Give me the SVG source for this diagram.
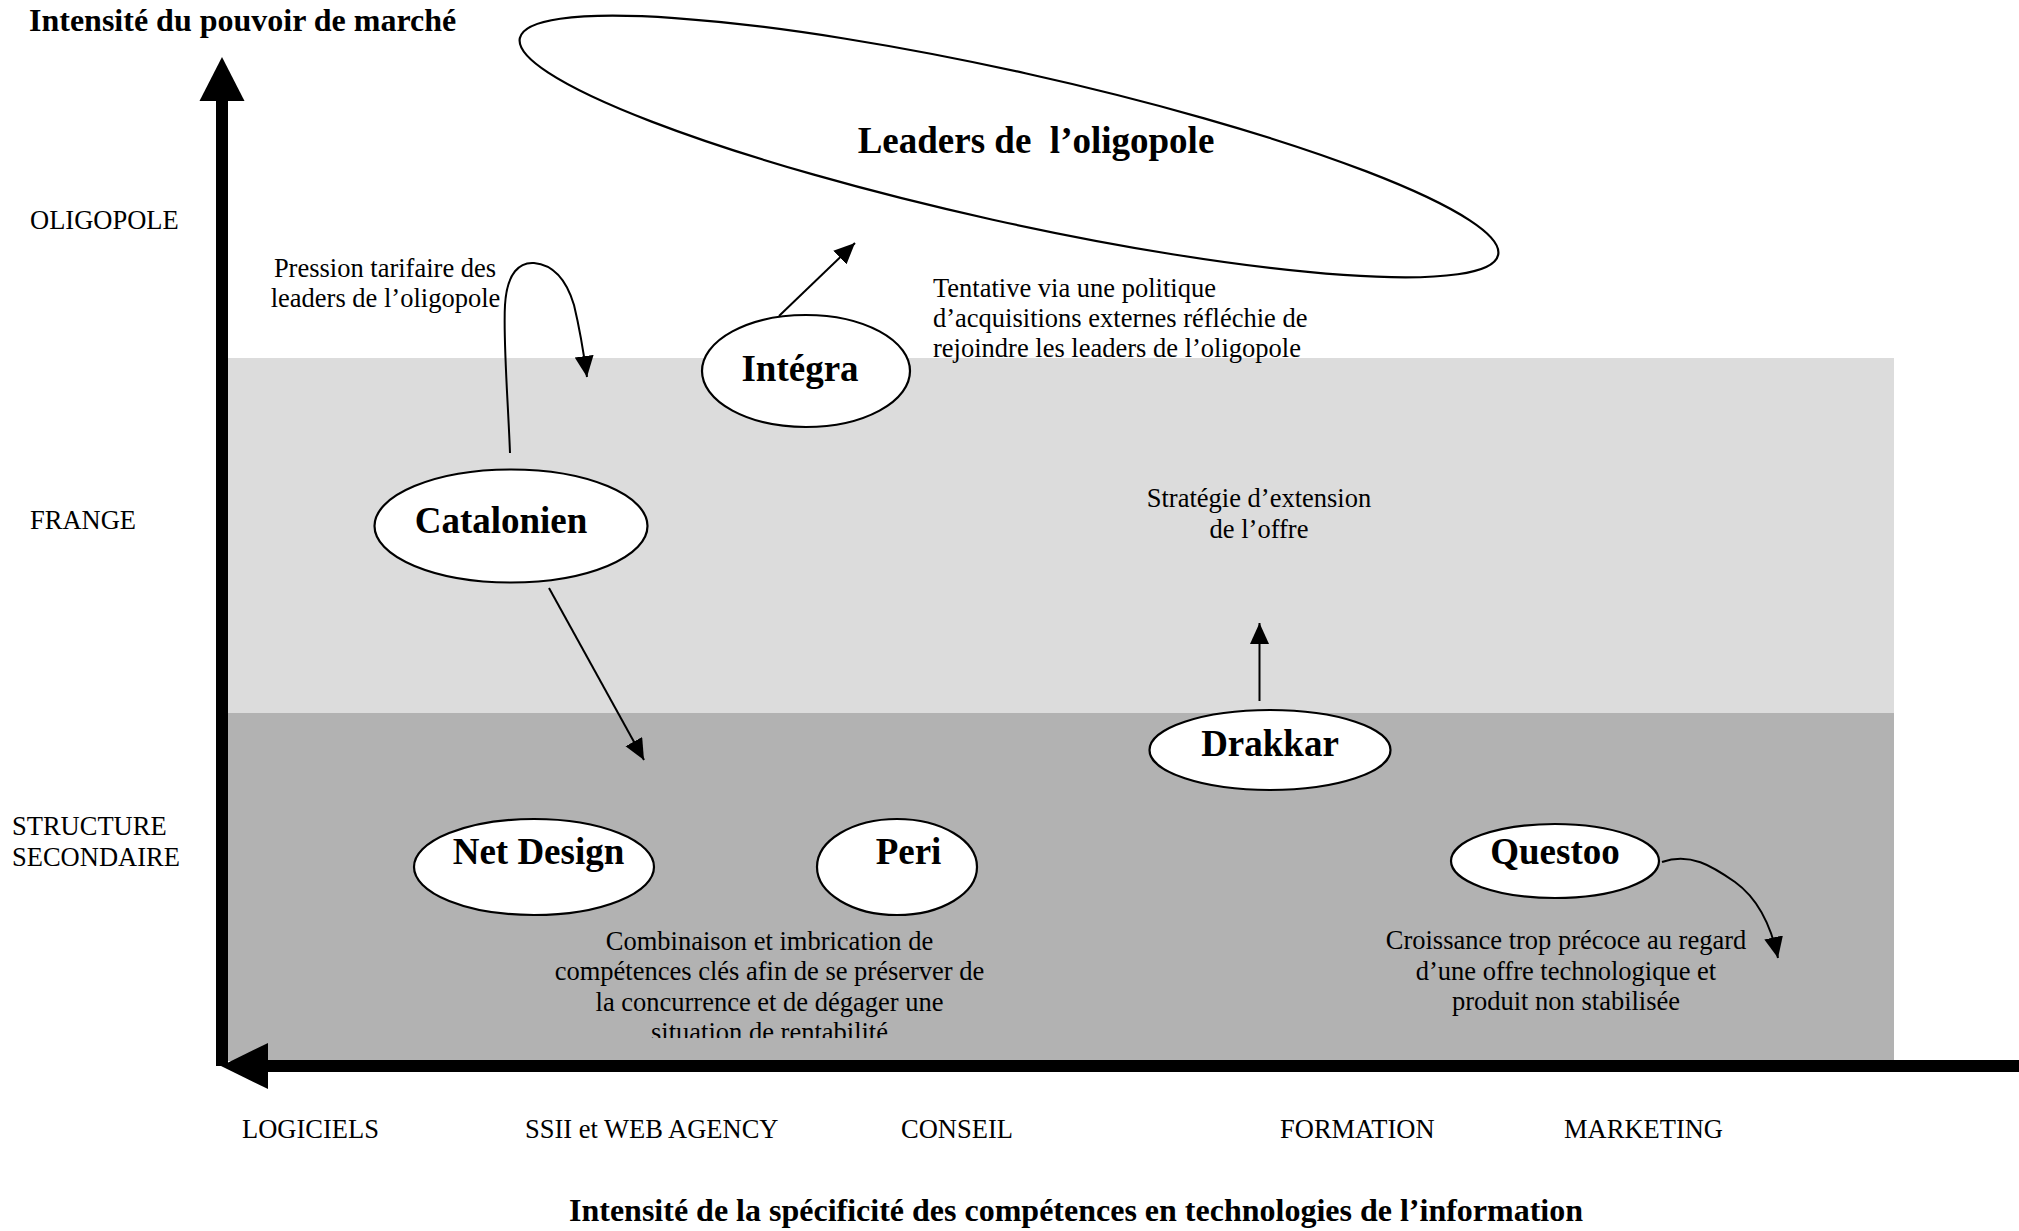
<svg xmlns="http://www.w3.org/2000/svg" width="2019" height="1231" viewBox="0 0 2019 1231">
<style>
text{font-family:"Liberation Serif","Times New Roman",serif;fill:#000}
.lbl{font-size:26.5px}
.node{font-size:37px;font-weight:bold;text-anchor:middle}
.title{font-size:32px;font-weight:bold}
.mid{text-anchor:middle}
.ell{fill:#fff;stroke:#000;stroke-width:2.2}
.conn{fill:none;stroke:#000;stroke-width:2;marker-end:url(#ah)}
</style>
<defs>
<marker id="ah" markerUnits="userSpaceOnUse" markerWidth="22" markerHeight="20" refX="21" refY="9.5" orient="auto" viewBox="0 0 22 20">
<path d="M0,0 L21,9.5 L0,19 z" fill="#000"/>
</marker>
<clipPath id="cut"><rect x="0" y="0" width="2019" height="1038"/></clipPath>
</defs>
<rect width="2019" height="1231" fill="#fff"/>
<g id="bands">
<rect x="227" y="358" width="1667" height="355" fill="#dcdcdc"/>
<rect x="227" y="713" width="1667" height="348" fill="#b2b2b2"/>
</g>
<g id="axes">
<rect x="216" y="100" width="12" height="966" fill="#000"/>
<polygon points="199.5,101 222,57 244.5,101" fill="#000"/>
<rect x="266" y="1060" width="1753" height="12" fill="#000"/>
<polygon points="268,1043 221,1066 268,1089" fill="#000"/>
</g>
<g id="axis-labels">
<text class="title" x="29" y="31">Intensité du pouvoir de marché</text>
<text class="lbl" x="30" y="229">OLIGOPOLE</text>
<text class="lbl" x="30" y="529">FRANGE</text>
<text class="lbl" x="12" y="835">STRUCTURE</text>
<text class="lbl" x="12" y="866">SECONDAIRE</text>
<text class="lbl" x="242" y="1138">LOGICIELS</text>
<text class="lbl" x="525" y="1138">SSII et WEB AGENCY</text>
<text class="lbl" x="901" y="1138">CONSEIL</text>
<text class="lbl" x="1280" y="1138">FORMATION</text>
<text class="lbl" x="1564" y="1138">MARKETING</text>
<text class="title mid" x="1076" y="1221">Intensité de la spécificité des compétences en technologies de l’information</text>
</g>
<g id="connectors">
<line class="conn" x1="779" y1="316" x2="855" y2="243"/>
<line class="conn" x1="549" y1="588" x2="644" y2="760"/>
<line class="conn" x1="1259.5" y1="701" x2="1259.5" y2="623"/>
<path class="conn" d="M510,453 C508,400 503,340 505,305 C507,272 520,262 534,263 C556,265 568,285 574,305 C580,330 584,355 587,377"/>
<path class="conn" d="M1662,862 C1690,852 1712,866 1735,882 C1760,900 1772,930 1778,958"/>
</g>
<g id="node-leaders">
<ellipse class="ell" cx="1009" cy="146.5" rx="501" ry="75" transform="rotate(12.5 1009 146.5)" fill="none" style="fill:none"/>
<text class="node" x="1036" y="153" xml:space="preserve">Leaders de  l’oligopole</text>
</g>
<g id="node-integra">
<ellipse class="ell" cx="806" cy="371" rx="104" ry="56"/>
<text class="node" x="800" y="381">Intégra</text>
</g>
<g id="node-catalonien">
<ellipse class="ell" cx="511" cy="526" rx="136.5" ry="56.5"/>
<text class="node" x="501" y="533">Catalonien</text>
</g>
<g id="node-drakkar">
<ellipse class="ell" cx="1270" cy="750" rx="120.5" ry="40"/>
<text class="node" x="1270" y="756">Drakkar</text>
</g>
<g id="node-netdesign">
<ellipse class="ell" cx="534" cy="867" rx="120" ry="48"/>
<text class="node" x="538.5" y="864">Net Design</text>
</g>
<g id="node-peri">
<ellipse class="ell" cx="897" cy="867" rx="80" ry="48"/>
<text class="node" x="908.5" y="864">Peri</text>
</g>
<g id="node-questoo">
<ellipse class="ell" cx="1555" cy="861" rx="104" ry="37"/>
<text class="node" x="1555" y="864">Questoo</text>
</g>
<g id="annotations">
<text class="lbl mid" x="385" y="277">Pression tarifaire des</text>
<text class="lbl mid" x="385.5" y="307">leaders de l’oligopole</text>
<text class="lbl" x="933" y="297">Tentative via une politique</text>
<text class="lbl" x="933" y="327">d’acquisitions externes réfléchie de</text>
<text class="lbl" x="933" y="357">rejoindre les leaders de l’oligopole</text>
<text class="lbl mid" x="1259" y="507">Stratégie d’extension</text>
<text class="lbl mid" x="1259" y="538">de l’offre</text>
<g clip-path="url(#cut)">
<text class="lbl mid" x="769.5" y="950">Combinaison et imbrication de</text>
<text class="lbl mid" x="769.5" y="980">compétences clés afin de se préserver de</text>
<text class="lbl mid" x="769.5" y="1011">la concurrence et de dégager une</text>
<text class="lbl mid" x="769.5" y="1041">situation de rentabilité</text>
</g>
<text class="lbl mid" x="1566" y="949">Croissance trop précoce au regard</text>
<text class="lbl mid" x="1566" y="980">d’une offre technologique et</text>
<text class="lbl mid" x="1566" y="1010">produit non stabilisée</text>
</g>
</svg>
